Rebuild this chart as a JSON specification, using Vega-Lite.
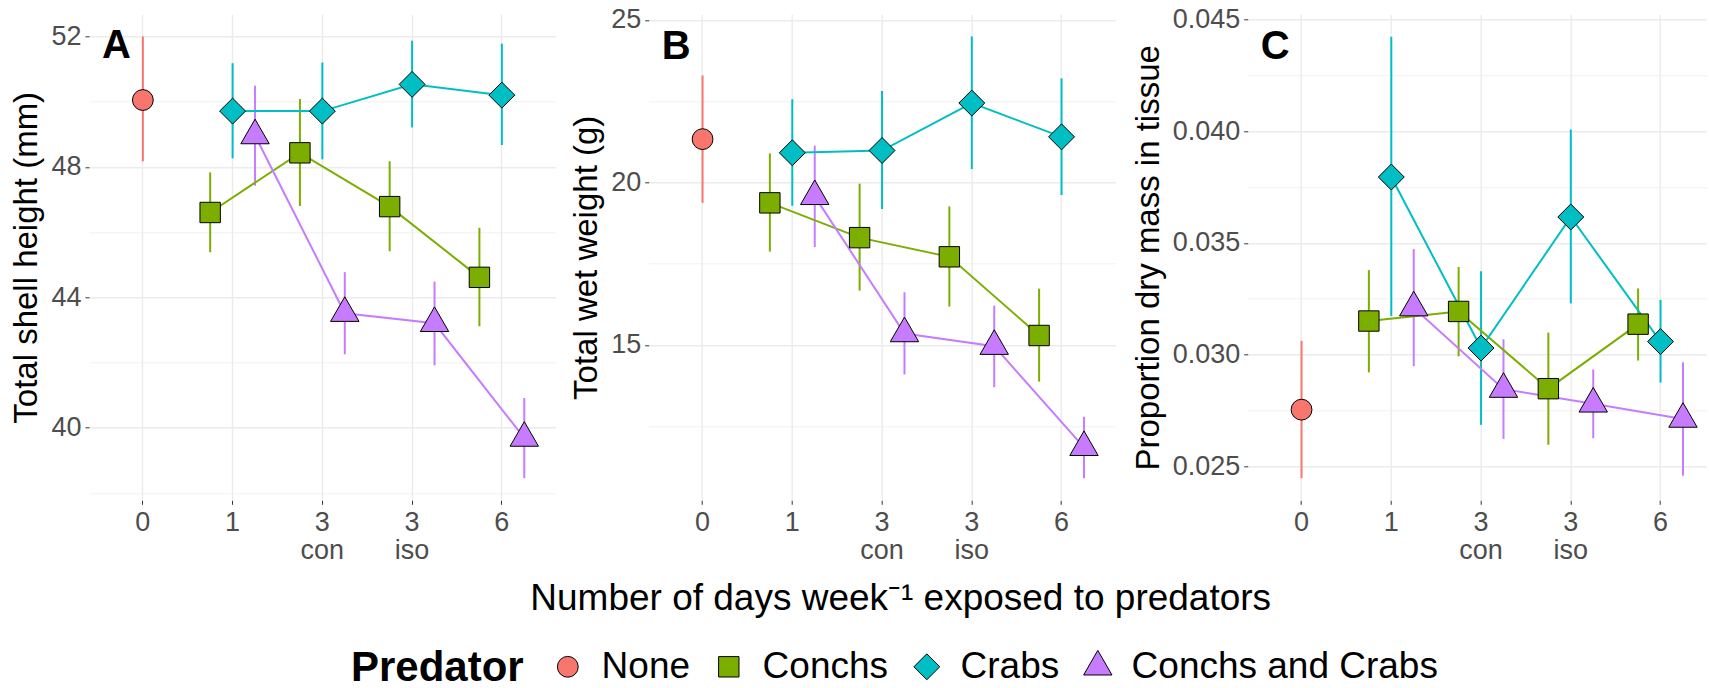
{
  "$schema": "https://vega.github.io/schema/vega-lite/v6.json",
  "background": "white",
  "padding": {"left": 10, "top": 5.3, "right": -8, "bottom": 69},
  "datasets": {
    "d": [
      {"Predator":"None","Days":"0","sh":50.05,"sh_lo":48.17,"sh_hi":52.0,"ww":21.33,"ww_lo":19.37,"ww_hi":23.29,"dm":0.02753,"dm_lo":0.02446,"dm_hi":0.03061},
      {"Predator":"Conchs","Days":"1","sh":46.6,"sh_lo":45.38,"sh_hi":47.83,"ww":19.37,"ww_lo":17.87,"ww_hi":20.89,"dm":0.0315,"dm_lo":0.0292,"dm_hi":0.03378},
      {"Predator":"Conchs","Days":"3 con","sh":48.43,"sh_lo":46.8,"sh_hi":50.08,"ww":18.3,"ww_lo":16.67,"ww_hi":19.96,"dm":0.03193,"dm_lo":0.02992,"dm_hi":0.03392},
      {"Predator":"Conchs","Days":"3 iso","sh":46.78,"sh_lo":45.41,"sh_hi":48.17,"ww":17.71,"ww_lo":16.18,"ww_hi":19.26,"dm":0.02847,"dm_lo":0.02596,"dm_hi":0.03098},
      {"Predator":"Conchs","Days":"6","sh":44.61,"sh_lo":43.11,"sh_hi":46.13,"ww":15.29,"ww_lo":13.87,"ww_hi":16.73,"dm":0.03136,"dm_lo":0.02973,"dm_hi":0.03296},
      {"Predator":"Crabs","Days":"1","sh":49.71,"sh_lo":48.26,"sh_hi":51.18,"ww":20.91,"ww_lo":19.28,"ww_hi":22.56,"dm":0.03795,"dm_lo":0.03173,"dm_hi":0.04423},
      {"Predator":"Crabs","Days":"3 con","sh":49.71,"sh_lo":48.23,"sh_hi":51.2,"ww":20.98,"ww_lo":19.18,"ww_hi":22.81,"dm":0.03029,"dm_lo":0.02685,"dm_hi":0.03373},
      {"Predator":"Crabs","Days":"3 iso","sh":50.53,"sh_lo":49.21,"sh_hi":51.87,"ww":22.44,"ww_lo":20.41,"ww_hi":24.49,"dm":0.03616,"dm_lo":0.03229,"dm_hi":0.04008},
      {"Predator":"Crabs","Days":"6","sh":50.2,"sh_lo":48.67,"sh_hi":51.78,"ww":21.4,"ww_lo":19.61,"ww_hi":23.2,"dm":0.03058,"dm_lo":0.02874,"dm_hi":0.03245},
      {"Predator":"Conchs and Crabs","Days":"1","sh":48.96,"sh_lo":47.42,"sh_hi":50.49,"ww":19.57,"ww_lo":18.01,"ww_hi":21.13,"dm":0.0321,"dm_lo":0.02948,"dm_hi":0.03472},
      {"Predator":"Conchs and Crabs","Days":"3 con","sh":43.51,"sh_lo":42.25,"sh_hi":44.77,"ww":15.35,"ww_lo":14.09,"ww_hi":16.62,"dm":0.02845,"dm_lo":0.02622,"dm_hi":0.03068},
      {"Predator":"Conchs and Crabs","Days":"3 iso","sh":43.2,"sh_lo":41.91,"sh_hi":44.48,"ww":14.96,"ww_lo":13.7,"ww_hi":16.21,"dm":0.02779,"dm_lo":0.02625,"dm_hi":0.02933},
      {"Predator":"Conchs and Crabs","Days":"6","sh":39.68,"sh_lo":38.45,"sh_hi":40.91,"ww":11.85,"ww_lo":10.9,"ww_hi":12.79,"dm":0.02711,"dm_lo":0.02457,"dm_hi":0.02965}
    ]
  },
  "data": {"name": "d"},
  "spacing": -587.3,
  "hconcat": [
    {
      "spacing": 13.7,
      "hconcat": [
        {
          "width": 466.7, "height": 486,
          "title": {"text": "A", "anchor": "start", "frame": "group", "offset": 0, "dy": 84.2, "dx": 13, "fontSize": 40, "fontWeight": "bold", "color": "black", "baseline": "alphabetic", "align": "left"},
          "encoding": {
            "x": {"field": "Days", "type": "nominal", "sort": ["0","1","3 con","3 iso","6"], "scale": {"type": "band", "paddingInner": 0, "paddingOuter": 0.1},
              "axis": {"title": null, "labelExpr": "split(datum.label, ' ')", "bandPosition": 0.5}}
          },
          "layer": [
            {"transform": [{"filter": "datum.Predator != 'None'"}], "mark": {"type": "rule", "strokeWidth": 2},
             "encoding": {"xOffset": {"field": "Predator", "type": "nominal", "scale": {"type": "point", "padding": 2, "domain": ["Conchs","Crabs","Conchs and Crabs"]}},
               "y": {"field": "sh_lo", "type": "quantitative", "scale": {"domain": [37.77, 52.68], "nice": false, "zero": false}, "axis": {"title": "Total shell height (mm)", "values": [38,40,42,44,46,48,50,52], "labelExpr": "datum.value % 4 == 0 ? datum.label : ''", "tickOpacity": {"condition": {"test": "datum.value % 4 != 0", "value": 0}, "value": 1}, "gridWidth": {"condition": {"test": "datum.value % 4 != 0", "value": 0.7}, "value": 1.4}}},
               "y2": {"field": "sh_hi"},
               "stroke": {"field": "Predator", "type": "nominal", "scale": {"domain": ["Conchs","Crabs","Conchs and Crabs","None"], "range": ["#7CAE00","#00BFC4","#C77CFF","#F8766D"]}, "legend": null}}},
            {"transform": [{"filter": "datum.Predator == 'None'"}], "mark": {"type": "rule", "strokeWidth": 2},
             "encoding": {
               "y": {"field": "sh_lo", "type": "quantitative", "scale": {"domain": [37.77, 52.68], "nice": false, "zero": false}, "axis": {"title": "Total shell height (mm)", "values": [38,40,42,44,46,48,50,52], "labelExpr": "datum.value % 4 == 0 ? datum.label : ''", "tickOpacity": {"condition": {"test": "datum.value % 4 != 0", "value": 0}, "value": 1}, "gridWidth": {"condition": {"test": "datum.value % 4 != 0", "value": 0.7}, "value": 1.4}}},
               "y2": {"field": "sh_hi"},
               "stroke": {"field": "Predator", "type": "nominal", "scale": {"domain": ["Conchs","Crabs","Conchs and Crabs","None"], "range": ["#7CAE00","#00BFC4","#C77CFF","#F8766D"]}, "legend": null}}},
            {"transform": [{"filter": "datum.Predator != 'None'"}], "mark": {"type": "line", "strokeWidth": 2},
             "encoding": {"xOffset": {"field": "Predator", "type": "nominal", "scale": {"type": "point", "padding": 2, "domain": ["Conchs","Crabs","Conchs and Crabs"]}},
               "y": {"field": "sh", "type": "quantitative", "scale": {"domain": [37.77, 52.68], "nice": false, "zero": false}, "axis": {"title": "Total shell height (mm)", "values": [38,40,42,44,46,48,50,52], "labelExpr": "datum.value % 4 == 0 ? datum.label : ''", "tickOpacity": {"condition": {"test": "datum.value % 4 != 0", "value": 0}, "value": 1}, "gridWidth": {"condition": {"test": "datum.value % 4 != 0", "value": 0.7}, "value": 1.4}}},
               "stroke": {"field": "Predator", "type": "nominal", "scale": {"domain": ["Conchs","Crabs","Conchs and Crabs","None"], "range": ["#7CAE00","#00BFC4","#C77CFF","#F8766D"]}, "legend": null}}},
            {"transform": [{"filter": "datum.Predator == 'None'"}], "mark": {"type": "point", "filled": true, "opacity": 1, "stroke": "black", "strokeWidth": 1},
             "encoding": {
               "y": {"field": "sh", "type": "quantitative", "scale": {"domain": [37.77, 52.68], "nice": false, "zero": false}, "axis": {"title": "Total shell height (mm)", "values": [38,40,42,44,46,48,50,52], "labelExpr": "datum.value % 4 == 0 ? datum.label : ''", "tickOpacity": {"condition": {"test": "datum.value % 4 != 0", "value": 0}, "value": 1}, "gridWidth": {"condition": {"test": "datum.value % 4 != 0", "value": 0.7}, "value": 1.4}}},
               "color": {"field": "Predator", "type": "nominal", "title": "Predator", "scale": {"domain": ["None","Conchs","Crabs","Conchs and Crabs"], "range": ["#F8766D","#7CAE00","#00BFC4","#C77CFF"]}, "legend": {"orient": "none", "legendX": 262, "legendY": 634, "direction": "horizontal", "titleOrient": "left", "titleFontSize": 42, "titleFontWeight": "bold", "titleColor": "black", "titlePadding": 25.3, "titleBaseline": "line-top", "titleLineHeight": 3, "labelFontSize": 37, "labelColor": "black", "labelOffset": 15.3, "labelLimit": 600, "columnPadding": 20, "clipHeight": 37, "symbolStrokeColor": "black", "symbolStrokeWidth": 1, "padding": 0}},
               "shape": {"field": "Predator", "type": "nominal", "title": "Predator", "scale": {"domain": ["None","Conchs","Crabs","Conchs and Crabs"], "range": ["circle","square","diamond","M0,-1L0.866,0.5L-0.866,0.5Z"]}},
               "size": {"field": "Predator", "type": "nominal", "title": "Predator", "scale": {"type": "ordinal", "domain": ["None","Conchs","Crabs","Conchs and Crabs"], "range": [433,416,671,1075]}}}},
            {"transform": [{"filter": "datum.Predator != 'None'"}], "mark": {"type": "point", "filled": true, "opacity": 1, "stroke": "black", "strokeWidth": 1},
             "encoding": {"xOffset": {"field": "Predator", "type": "nominal", "scale": {"type": "point", "padding": 2, "domain": ["Conchs","Crabs","Conchs and Crabs"]}},
               "y": {"field": "sh", "type": "quantitative", "scale": {"domain": [37.77, 52.68], "nice": false, "zero": false}, "axis": {"title": "Total shell height (mm)", "values": [38,40,42,44,46,48,50,52], "labelExpr": "datum.value % 4 == 0 ? datum.label : ''", "tickOpacity": {"condition": {"test": "datum.value % 4 != 0", "value": 0}, "value": 1}, "gridWidth": {"condition": {"test": "datum.value % 4 != 0", "value": 0.7}, "value": 1.4}}},
               "color": {"field": "Predator", "type": "nominal", "title": "Predator", "scale": {"domain": ["None","Conchs","Crabs","Conchs and Crabs"], "range": ["#F8766D","#7CAE00","#00BFC4","#C77CFF"]}, "legend": {"orient": "none", "legendX": 262, "legendY": 634, "direction": "horizontal", "titleOrient": "left", "titleFontSize": 42, "titleFontWeight": "bold", "titleColor": "black", "titlePadding": 25.3, "titleBaseline": "line-top", "titleLineHeight": 3, "labelFontSize": 37, "labelColor": "black", "labelOffset": 15.3, "labelLimit": 600, "columnPadding": 20, "clipHeight": 37, "symbolStrokeColor": "black", "symbolStrokeWidth": 1, "padding": 0}},
               "shape": {"field": "Predator", "type": "nominal", "title": "Predator", "scale": {"domain": ["None","Conchs","Crabs","Conchs and Crabs"], "range": ["circle","square","diamond","M0,-1L0.866,0.5L-0.866,0.5Z"]}},
               "size": {"field": "Predator", "type": "nominal", "title": "Predator", "scale": {"type": "ordinal", "domain": ["None","Conchs","Crabs","Conchs and Crabs"], "range": [433,416,671,1075]}}}}
          ]
        },
        {
          "width": 466.7, "height": 486,
          "title": {"text": "B", "anchor": "start", "frame": "group", "offset": 0, "dy": 92.9, "dx": 13, "fontSize": 40, "fontWeight": "bold", "color": "black", "baseline": "alphabetic", "align": "left"},
          "encoding": {
            "x": {"field": "Days", "type": "nominal", "sort": ["0","1","3 con","3 iso","6"], "scale": {"type": "band", "paddingInner": 0, "paddingOuter": 0.1},
              "axis": {"title": null, "labelExpr": "split(datum.label, ' ')", "bandPosition": 0.5}}
          },
          "layer": [
            {"transform": [{"filter": "datum.Predator != 'None'"}], "mark": {"type": "rule", "strokeWidth": 2},
             "encoding": {"xOffset": {"field": "Predator", "type": "nominal", "scale": {"type": "point", "padding": 2, "domain": ["Conchs","Crabs","Conchs and Crabs"]}},
               "y": {"field": "ww_lo", "type": "quantitative", "scale": {"domain": [10.22, 25.17], "nice": false, "zero": false}, "axis": {"title": "Total wet weight (g)", "values": [12.5,15,17.5,20,22.5,25], "labelExpr": "datum.value % 5 == 0 ? datum.label : ''", "tickOpacity": {"condition": {"test": "datum.value % 5 != 0", "value": 0}, "value": 1}, "gridWidth": {"condition": {"test": "datum.value % 5 != 0", "value": 0.7}, "value": 1.4}}},
               "y2": {"field": "ww_hi"},
               "stroke": {"field": "Predator", "type": "nominal", "scale": {"domain": ["Conchs","Crabs","Conchs and Crabs","None"], "range": ["#7CAE00","#00BFC4","#C77CFF","#F8766D"]}, "legend": null}}},
            {"transform": [{"filter": "datum.Predator == 'None'"}], "mark": {"type": "rule", "strokeWidth": 2},
             "encoding": {
               "y": {"field": "ww_lo", "type": "quantitative", "scale": {"domain": [10.22, 25.17], "nice": false, "zero": false}, "axis": {"title": "Total wet weight (g)", "values": [12.5,15,17.5,20,22.5,25], "labelExpr": "datum.value % 5 == 0 ? datum.label : ''", "tickOpacity": {"condition": {"test": "datum.value % 5 != 0", "value": 0}, "value": 1}, "gridWidth": {"condition": {"test": "datum.value % 5 != 0", "value": 0.7}, "value": 1.4}}},
               "y2": {"field": "ww_hi"},
               "stroke": {"field": "Predator", "type": "nominal", "scale": {"domain": ["Conchs","Crabs","Conchs and Crabs","None"], "range": ["#7CAE00","#00BFC4","#C77CFF","#F8766D"]}, "legend": null}}},
            {"transform": [{"filter": "datum.Predator != 'None'"}], "mark": {"type": "line", "strokeWidth": 2},
             "encoding": {"xOffset": {"field": "Predator", "type": "nominal", "scale": {"type": "point", "padding": 2, "domain": ["Conchs","Crabs","Conchs and Crabs"]}},
               "y": {"field": "ww", "type": "quantitative", "scale": {"domain": [10.22, 25.17], "nice": false, "zero": false}, "axis": {"title": "Total wet weight (g)", "values": [12.5,15,17.5,20,22.5,25], "labelExpr": "datum.value % 5 == 0 ? datum.label : ''", "tickOpacity": {"condition": {"test": "datum.value % 5 != 0", "value": 0}, "value": 1}, "gridWidth": {"condition": {"test": "datum.value % 5 != 0", "value": 0.7}, "value": 1.4}}},
               "stroke": {"field": "Predator", "type": "nominal", "scale": {"domain": ["Conchs","Crabs","Conchs and Crabs","None"], "range": ["#7CAE00","#00BFC4","#C77CFF","#F8766D"]}, "legend": null}}},
            {"transform": [{"filter": "datum.Predator == 'None'"}], "mark": {"type": "point", "filled": true, "opacity": 1, "stroke": "black", "strokeWidth": 1},
             "encoding": {
               "y": {"field": "ww", "type": "quantitative", "scale": {"domain": [10.22, 25.17], "nice": false, "zero": false}, "axis": {"title": "Total wet weight (g)", "values": [12.5,15,17.5,20,22.5,25], "labelExpr": "datum.value % 5 == 0 ? datum.label : ''", "tickOpacity": {"condition": {"test": "datum.value % 5 != 0", "value": 0}, "value": 1}, "gridWidth": {"condition": {"test": "datum.value % 5 != 0", "value": 0.7}, "value": 1.4}}},
               "color": {"field": "Predator", "type": "nominal", "title": "Predator", "scale": {"domain": ["None","Conchs","Crabs","Conchs and Crabs"], "range": ["#F8766D","#7CAE00","#00BFC4","#C77CFF"]}, "legend": {"orient": "none", "legendX": 262, "legendY": 634, "direction": "horizontal", "titleOrient": "left", "titleFontSize": 42, "titleFontWeight": "bold", "titleColor": "black", "titlePadding": 25.3, "titleBaseline": "line-top", "titleLineHeight": 3, "labelFontSize": 37, "labelColor": "black", "labelOffset": 15.3, "labelLimit": 600, "columnPadding": 20, "clipHeight": 37, "symbolStrokeColor": "black", "symbolStrokeWidth": 1, "padding": 0}},
               "shape": {"field": "Predator", "type": "nominal", "title": "Predator", "scale": {"domain": ["None","Conchs","Crabs","Conchs and Crabs"], "range": ["circle","square","diamond","M0,-1L0.866,0.5L-0.866,0.5Z"]}},
               "size": {"field": "Predator", "type": "nominal", "title": "Predator", "scale": {"type": "ordinal", "domain": ["None","Conchs","Crabs","Conchs and Crabs"], "range": [433,416,671,1075]}}}},
            {"transform": [{"filter": "datum.Predator != 'None'"}], "mark": {"type": "point", "filled": true, "opacity": 1, "stroke": "black", "strokeWidth": 1},
             "encoding": {"xOffset": {"field": "Predator", "type": "nominal", "scale": {"type": "point", "padding": 2, "domain": ["Conchs","Crabs","Conchs and Crabs"]}},
               "y": {"field": "ww", "type": "quantitative", "scale": {"domain": [10.22, 25.17], "nice": false, "zero": false}, "axis": {"title": "Total wet weight (g)", "values": [12.5,15,17.5,20,22.5,25], "labelExpr": "datum.value % 5 == 0 ? datum.label : ''", "tickOpacity": {"condition": {"test": "datum.value % 5 != 0", "value": 0}, "value": 1}, "gridWidth": {"condition": {"test": "datum.value % 5 != 0", "value": 0.7}, "value": 1.4}}},
               "color": {"field": "Predator", "type": "nominal", "title": "Predator", "scale": {"domain": ["None","Conchs","Crabs","Conchs and Crabs"], "range": ["#F8766D","#7CAE00","#00BFC4","#C77CFF"]}, "legend": {"orient": "none", "legendX": 262, "legendY": 634, "direction": "horizontal", "titleOrient": "left", "titleFontSize": 42, "titleFontWeight": "bold", "titleColor": "black", "titlePadding": 25.3, "titleBaseline": "line-top", "titleLineHeight": 3, "labelFontSize": 37, "labelColor": "black", "labelOffset": 15.3, "labelLimit": 600, "columnPadding": 20, "clipHeight": 37, "symbolStrokeColor": "black", "symbolStrokeWidth": 1, "padding": 0}},
               "shape": {"field": "Predator", "type": "nominal", "title": "Predator", "scale": {"domain": ["None","Conchs","Crabs","Conchs and Crabs"], "range": ["circle","square","diamond","M0,-1L0.866,0.5L-0.866,0.5Z"]}},
               "size": {"field": "Predator", "type": "nominal", "title": "Predator", "scale": {"type": "ordinal", "domain": ["None","Conchs","Crabs","Conchs and Crabs"], "range": [433,416,671,1075]}}}}
          ]
        }
      ]
    },
    {
      "width": 466.7, "height": 486,
      "title": {"text": "C", "anchor": "start", "frame": "group", "offset": 0, "dy": 92.9, "dx": 13, "fontSize": 40, "fontWeight": "bold", "color": "black", "baseline": "alphabetic", "align": "left"},
      "encoding": {
        "x": {"field": "Days", "type": "nominal", "sort": ["0","1","3 con","3 iso","6"], "scale": {"type": "band", "paddingInner": 0, "paddingOuter": 0.1},
          "axis": {"title": "Number of days week⁻¹ exposed to predators", "titleFontSize": 37, "titleColor": "black", "titleFontWeight": "normal", "titlePadding": 17, "titleX": -347.5, "labelExpr": "split(datum.label, ' ')", "bandPosition": 0.5}}
      },
      "layer": [
        {"transform": [{"filter": "datum.Predator != 'None'"}], "mark": {"type": "rule", "strokeWidth": 2},
         "encoding": {"xOffset": {"field": "Predator", "type": "nominal", "scale": {"type": "point", "padding": 2, "domain": ["Conchs","Crabs","Conchs and Crabs"]}},
           "y": {"field": "dm_lo", "type": "quantitative", "scale": {"domain": [0.02347, 0.04524], "nice": false, "zero": false}, "axis": {"title": "Proportion dry mass in tissue", "format": ".3f", "values": [0.025,0.0275,0.03,0.0325,0.035,0.0375,0.04,0.0425,0.045], "labelExpr": "round(datum.value*10000) % 50 == 0 ? datum.label : ''", "tickOpacity": {"condition": {"test": "round(datum.value*10000) % 50 != 0", "value": 0}, "value": 1}, "gridWidth": {"condition": {"test": "round(datum.value*10000) % 50 != 0", "value": 0.7}, "value": 1.4}}},
           "y2": {"field": "dm_hi"},
           "stroke": {"field": "Predator", "type": "nominal", "scale": {"domain": ["Conchs","Crabs","Conchs and Crabs","None"], "range": ["#7CAE00","#00BFC4","#C77CFF","#F8766D"]}, "legend": null}}},
        {"transform": [{"filter": "datum.Predator == 'None'"}], "mark": {"type": "rule", "strokeWidth": 2},
         "encoding": {
           "y": {"field": "dm_lo", "type": "quantitative", "scale": {"domain": [0.02347, 0.04524], "nice": false, "zero": false}, "axis": {"title": "Proportion dry mass in tissue", "format": ".3f", "values": [0.025,0.0275,0.03,0.0325,0.035,0.0375,0.04,0.0425,0.045], "labelExpr": "round(datum.value*10000) % 50 == 0 ? datum.label : ''", "tickOpacity": {"condition": {"test": "round(datum.value*10000) % 50 != 0", "value": 0}, "value": 1}, "gridWidth": {"condition": {"test": "round(datum.value*10000) % 50 != 0", "value": 0.7}, "value": 1.4}}},
           "y2": {"field": "dm_hi"},
           "stroke": {"field": "Predator", "type": "nominal", "scale": {"domain": ["Conchs","Crabs","Conchs and Crabs","None"], "range": ["#7CAE00","#00BFC4","#C77CFF","#F8766D"]}, "legend": null}}},
        {"transform": [{"filter": "datum.Predator != 'None'"}], "mark": {"type": "line", "strokeWidth": 2},
         "encoding": {"xOffset": {"field": "Predator", "type": "nominal", "scale": {"type": "point", "padding": 2, "domain": ["Conchs","Crabs","Conchs and Crabs"]}},
           "y": {"field": "dm", "type": "quantitative", "scale": {"domain": [0.02347, 0.04524], "nice": false, "zero": false}, "axis": {"title": "Proportion dry mass in tissue", "format": ".3f", "values": [0.025,0.0275,0.03,0.0325,0.035,0.0375,0.04,0.0425,0.045], "labelExpr": "round(datum.value*10000) % 50 == 0 ? datum.label : ''", "tickOpacity": {"condition": {"test": "round(datum.value*10000) % 50 != 0", "value": 0}, "value": 1}, "gridWidth": {"condition": {"test": "round(datum.value*10000) % 50 != 0", "value": 0.7}, "value": 1.4}}},
           "stroke": {"field": "Predator", "type": "nominal", "scale": {"domain": ["Conchs","Crabs","Conchs and Crabs","None"], "range": ["#7CAE00","#00BFC4","#C77CFF","#F8766D"]}, "legend": null}}},
        {"transform": [{"filter": "datum.Predator == 'None'"}], "mark": {"type": "point", "filled": true, "opacity": 1, "stroke": "black", "strokeWidth": 1},
         "encoding": {
           "y": {"field": "dm", "type": "quantitative", "scale": {"domain": [0.02347, 0.04524], "nice": false, "zero": false}, "axis": {"title": "Proportion dry mass in tissue", "format": ".3f", "values": [0.025,0.0275,0.03,0.0325,0.035,0.0375,0.04,0.0425,0.045], "labelExpr": "round(datum.value*10000) % 50 == 0 ? datum.label : ''", "tickOpacity": {"condition": {"test": "round(datum.value*10000) % 50 != 0", "value": 0}, "value": 1}, "gridWidth": {"condition": {"test": "round(datum.value*10000) % 50 != 0", "value": 0.7}, "value": 1.4}}},
           "color": {"field": "Predator", "type": "nominal", "title": "Predator", "scale": {"domain": ["None","Conchs","Crabs","Conchs and Crabs"], "range": ["#F8766D","#7CAE00","#00BFC4","#C77CFF"]}, "legend": {"orient": "none", "legendX": 262, "legendY": 634, "direction": "horizontal", "titleOrient": "left", "titleFontSize": 42, "titleFontWeight": "bold", "titleColor": "black", "titlePadding": 25.3, "titleBaseline": "line-top", "titleLineHeight": 3, "labelFontSize": 37, "labelColor": "black", "labelOffset": 15.3, "labelLimit": 600, "columnPadding": 20, "clipHeight": 37, "symbolStrokeColor": "black", "symbolStrokeWidth": 1, "padding": 0}},
           "shape": {"field": "Predator", "type": "nominal", "title": "Predator", "scale": {"domain": ["None","Conchs","Crabs","Conchs and Crabs"], "range": ["circle","square","diamond","M0,-1L0.866,0.5L-0.866,0.5Z"]}},
           "size": {"field": "Predator", "type": "nominal", "title": "Predator", "scale": {"type": "ordinal", "domain": ["None","Conchs","Crabs","Conchs and Crabs"], "range": [433,416,671,1075]}}}},
        {"transform": [{"filter": "datum.Predator != 'None'"}], "mark": {"type": "point", "filled": true, "opacity": 1, "stroke": "black", "strokeWidth": 1},
         "encoding": {"xOffset": {"field": "Predator", "type": "nominal", "scale": {"type": "point", "padding": 2, "domain": ["Conchs","Crabs","Conchs and Crabs"]}},
           "y": {"field": "dm", "type": "quantitative", "scale": {"domain": [0.02347, 0.04524], "nice": false, "zero": false}, "axis": {"title": "Proportion dry mass in tissue", "format": ".3f", "values": [0.025,0.0275,0.03,0.0325,0.035,0.0375,0.04,0.0425,0.045], "labelExpr": "round(datum.value*10000) % 50 == 0 ? datum.label : ''", "tickOpacity": {"condition": {"test": "round(datum.value*10000) % 50 != 0", "value": 0}, "value": 1}, "gridWidth": {"condition": {"test": "round(datum.value*10000) % 50 != 0", "value": 0.7}, "value": 1.4}}},
           "color": {"field": "Predator", "type": "nominal", "title": "Predator", "scale": {"domain": ["None","Conchs","Crabs","Conchs and Crabs"], "range": ["#F8766D","#7CAE00","#00BFC4","#C77CFF"]}, "legend": {"orient": "none", "legendX": 262, "legendY": 634, "direction": "horizontal", "titleOrient": "left", "titleFontSize": 42, "titleFontWeight": "bold", "titleColor": "black", "titlePadding": 25.3, "titleBaseline": "line-top", "titleLineHeight": 3, "labelFontSize": 37, "labelColor": "black", "labelOffset": 15.3, "labelLimit": 600, "columnPadding": 20, "clipHeight": 37, "symbolStrokeColor": "black", "symbolStrokeWidth": 1, "padding": 0}},
           "shape": {"field": "Predator", "type": "nominal", "title": "Predator", "scale": {"domain": ["None","Conchs","Crabs","Conchs and Crabs"], "range": ["circle","square","diamond","M0,-1L0.866,0.5L-0.866,0.5Z"]}},
           "size": {"field": "Predator", "type": "nominal", "title": "Predator", "scale": {"type": "ordinal", "domain": ["None","Conchs","Crabs","Conchs and Crabs"], "range": [433,416,671,1075]}}}}
      ]
    }
  ],
  "config": {
    "font": "Liberation Sans",
    "view": {"stroke": null},
    "axis": {"domain": false, "grid": true, "gridColor": "#EBEBEB", "tickColor": "#333333", "tickSize": 4, "tickWidth": 1, "labelFontSize": 27, "labelColor": "#4D4D4D", "labelPadding": 4, "labelOverlap": false, "titleFontSize": 33, "titleFontWeight": "normal", "titleColor": "#000000"},
    "axisX": {"labelPadding": 5.7, "labelAngle": 0, "gridWidth": 1.4, "labelLineHeight": 27.3},
    "axisY": {"titlePadding": 7}
  }
}
